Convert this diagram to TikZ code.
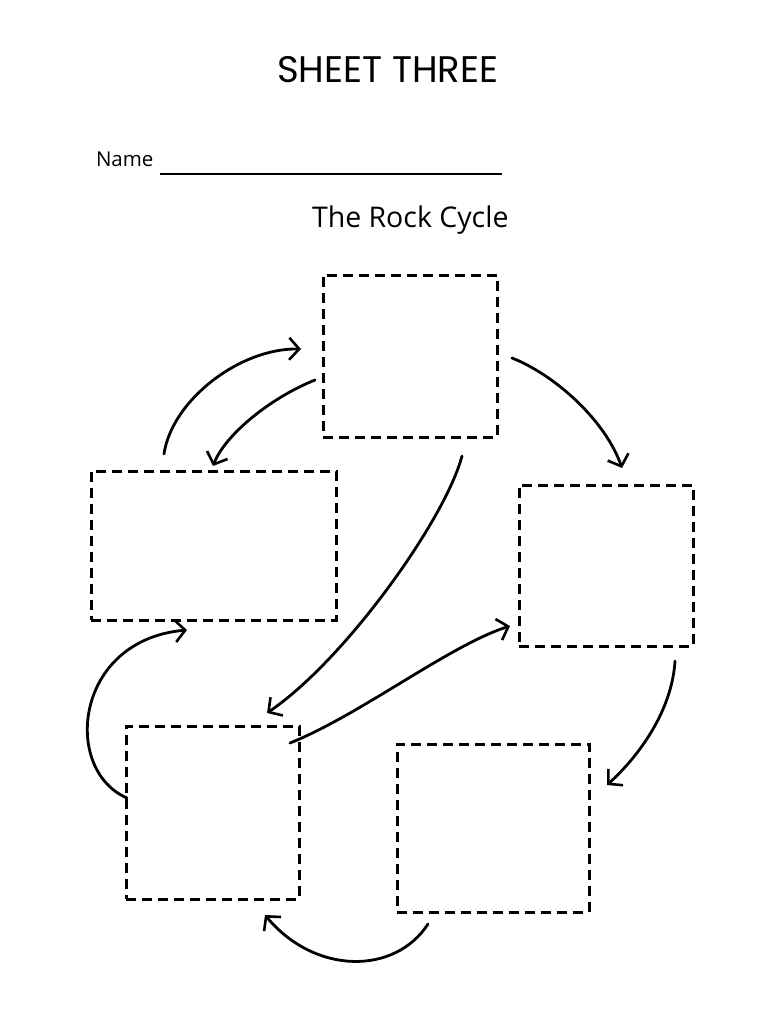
\documentclass[tikz,border=0pt]{standalone}
\usepackage{fontspec}
\usetikzlibrary{arrows.meta}
\newfontfamily\titlefont{Poppins}
\newfontfamily\handfont{Open Sans}
\begin{document}
\begin{tikzpicture}[x=1pt,y=-1pt,
  rockbox/.style={draw=black,line width=3pt,dash pattern=on 10pt off 6pt,inner sep=0pt,outer sep=0pt},
  cyclearrow/.style={draw=black,line width=2.8pt,line cap=round,-{Straight Barb[length=10pt,width=22pt,line width=2.6pt]}},
  txt/.style={anchor=base west,inner sep=0pt,outer sep=0pt}]
\useasboundingbox (0,0) rectangle (773,1024);
\fill[white] (0,0) rectangle (773,1024);
% texts
\node[txt,font=\titlefont\fontsize{37}{40}\selectfont] (title) at (277,83) {SHEET THREE};
\node[txt,font=\handfont\fontsize{20.5}{22}\selectfont] (name) at (96,167) {Name};
\node[txt,font=\handfont\fontsize{28.5}{30}\selectfont] (subtitle) at (312,228) {The Rock Cycle};
\coordinate (nl1) at (160,174);
\coordinate (nl2) at (502,174);
\draw[line width=2pt] (nl1) -- (nl2);
% boxes
\node[rockbox,minimum width=174pt,minimum height=162pt] (top) at (410,356) {};
\node[rockbox,minimum width=245pt,minimum height=149pt] (left) at (213.5,545.5) {};
\node[rockbox,minimum width=174pt,minimum height=161pt] (right) at (606,565.5) {};
\node[rockbox,minimum width=173pt,minimum height=173pt] (bl) at (212.5,812.5) {};
\node[rockbox,minimum width=192pt,minimum height=168pt] (br) at (493,828) {};
% arrow end points
\coordinate (a1s) at (164,454);  \coordinate (a1e) at (301,349);
\coordinate (a2s) at (315,380);  \coordinate (a2e) at (213,466);
\coordinate (a3s) at (512,358);  \coordinate (a3e) at (622,468);
\coordinate (a4s) at (462,456);  \coordinate (a4e) at (267,713);
\coordinate (a5s) at (290,743);  \coordinate (a5e) at (510,626);
\coordinate (a6s) at (675,661);  \coordinate (a6e) at (607,785);
\coordinate (a7s) at (127,798);  \coordinate (a7e) at (187,630);
\coordinate (a8s) at (428,924);  \coordinate (a8e) at (265,915);
% arrows
\draw[cyclearrow] (a1s) .. controls (172,400) and (240,348) .. (a1e);
\draw[cyclearrow] (a2s) .. controls (270,398) and (225,435) .. (a2e);
\draw[cyclearrow] (a3s) .. controls (555,375) and (605,420) .. (a3e);
\draw[cyclearrow] (a4s) .. controls (445,520) and (345,660) .. (a4e);
\draw[cyclearrow] (a5s) .. controls (360,715) and (450,645) .. (a5e);
\draw[cyclearrow] (a6s) .. controls (672,710) and (640,755) .. (a6e);
\draw[cyclearrow] (a7s) .. controls (62,770) and (74,640) .. (a7e);
\draw[cyclearrow] (a8s) .. controls (395,975) and (315,975) .. (a8e);
\end{tikzpicture}
\end{document}
